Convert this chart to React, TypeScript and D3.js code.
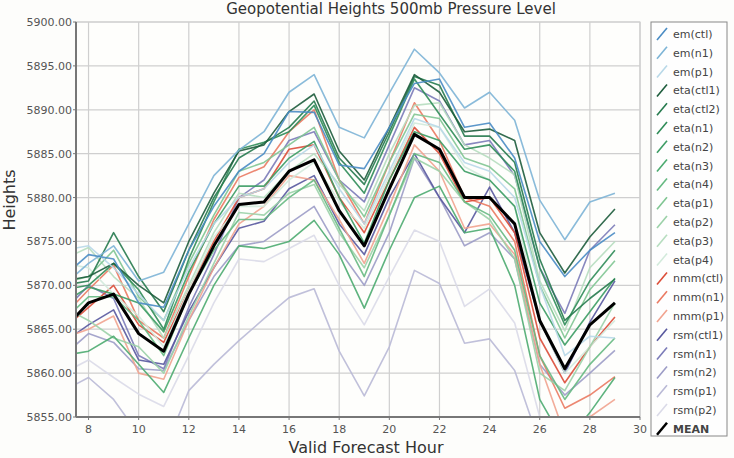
import React from 'react';
import * as d3 from 'd3';

const hours = [7, 8, 9, 10, 11, 12, 13, 14, 15, 16, 17, 18, 19, 20, 21, 22, 23, 24, 25, 26, 27, 28, 29];

const seriesNames = [
  'em(ctl)', 'em(n1)', 'em(p1)',
  'eta(ctl1)', 'eta(ctl2)', 'eta(n1)', 'eta(n2)', 'eta(n3)', 'eta(n4)', 'eta(p1)', 'eta(p2)', 'eta(p3)', 'eta(p4)',
  'nmm(ctl)', 'nmm(n1)', 'nmm(p1)',
  'rsm(ctl1)', 'rsm(n1)', 'rsm(n2)', 'rsm(p1)', 'rsm(p2)',
  'MEAN',
];

const seriesColors = [
  '#4a8cc4', '#7db4d6', '#b8d8e8',
  '#1d5c3c', '#267a4e', '#2f8c58', '#3c9c64', '#4cab70', '#66b982', '#7fc592', '#9bd1a8', '#b6ddbf', '#d2eadb',
  '#dc4d38', '#ea7a62', '#f1a38f',
  '#58589e', '#7b7bb8', '#9c9cc6', '#b9b9d6', '#dadae8',
  '#000000',
];

const emCtl = [5871, 5873.5, 5873, 5868, 5867.5, 5874, 5879, 5883, 5885, 5889.8, 5889.7, 5883.7, 5883.3, 5888, 5893, 5893.5, 5888, 5888.5, 5884.5, 5875, 5871, 5874, 5876];
const emN1 = [5870, 5872.5, 5874.5, 5870.5, 5871.5, 5877, 5882.5, 5885.4, 5887.5, 5892, 5894, 5888, 5886.8, 5891.9, 5896.9, 5894.2, 5890.2, 5892, 5888.8, 5879.7, 5875.2, 5879.5, 5880.5];
const emP1 = [5874, 5874.5, 5872, 5869, 5866, 5872, 5877, 5880, 5881, 5884, 5886, 5881, 5877, 5883, 5889, 5888, 5884, 5883, 5880, 5870, 5862, 5864.2, 5864];
const etaCtl1 = [5870.5, 5871, 5872.5, 5870, 5868, 5875, 5880.5, 5885.3, 5886, 5889.8, 5891.8, 5885.3, 5882, 5888, 5894, 5892, 5887.5, 5887.8, 5886.5, 5876, 5871.4, 5875.5, 5878.7];
const etaCtl2 = [5870, 5870.5, 5876, 5871, 5867, 5874, 5880, 5884.5, 5886.2, 5888, 5891, 5884.5, 5881.5, 5887.5, 5893.8, 5892.8, 5887, 5887, 5884, 5873, 5866, 5868.5, 5870.7];
const etaN1 = [5869.5, 5870, 5872.5, 5869.5, 5865, 5873, 5879.5, 5885.5, 5886.3, 5887.5, 5890.5, 5884, 5880.5, 5887, 5893.5, 5889.5, 5885.5, 5886, 5883, 5872, 5865.5, 5870.5, 5874];
const etaN2 = [5868, 5869.8, 5869, 5868, 5864.7, 5871.5, 5877, 5881.3, 5881.3, 5884.5, 5886.4, 5880, 5874.8, 5882, 5887.5, 5886.5, 5883, 5882, 5879, 5868, 5863.2, 5867, 5870.8];
const etaN3 = [5862, 5862.5, 5864.2, 5861, 5857.8, 5864, 5870, 5874.5, 5874.2, 5875, 5877.4, 5873.5, 5867.4, 5874, 5880, 5881.3, 5876, 5876.5, 5870, 5857, 5852, 5855.5, 5859.5];
const etaN4 = [5866, 5868.7, 5868.7, 5866, 5862, 5869, 5874, 5877.5, 5877.5, 5880, 5882, 5876.5, 5871, 5878, 5885, 5884, 5879.5, 5878, 5874, 5862, 5857, 5861, 5864];
const etaP1 = [5870.3, 5871, 5874, 5868.7, 5866, 5872.5, 5878, 5883, 5884, 5886, 5888, 5882, 5877.8, 5884, 5889.5, 5889, 5884.5, 5883.5, 5881, 5870, 5864, 5869.5, 5872.8];
const etaP2 = [5867.5, 5866, 5864, 5863, 5860, 5866.5, 5872.5, 5878.3, 5878, 5880.5, 5881.5, 5876, 5872, 5878, 5884.5, 5883, 5879.5, 5877.5, 5873, 5860, 5858, 5863, 5868];
const etaP3 = [5873, 5874.3, 5871, 5868.5, 5864, 5870, 5876, 5880.5, 5880, 5883, 5885, 5881.5, 5878.5, 5885, 5890.5, 5890.8, 5886, 5884.5, 5882.6, 5870.5, 5864.8, 5872, 5875];
const etaP4 = [5872.5, 5872, 5869, 5866.5, 5863, 5869.5, 5875.5, 5879, 5879, 5882, 5884, 5879.5, 5876.5, 5882.5, 5888.5, 5888, 5883.5, 5882, 5879, 5866, 5860, 5863, 5866];
const nmmCtl = [5865, 5867.5, 5870, 5865.5, 5863.5, 5869.5, 5875, 5880, 5881, 5885.5, 5886, 5880, 5876, 5882, 5888, 5885, 5879.5, 5880, 5876, 5864, 5858.9, 5863, 5866.4];
const nmmN1 = [5866.5, 5869.5, 5872.3, 5866, 5864, 5871, 5877.5, 5882.3, 5883.5, 5887.5, 5890, 5882, 5877, 5884, 5890.8, 5886.5, 5880, 5879, 5875, 5862, 5856, 5857.5, 5859.6];
const nmmP1 = [5864, 5865, 5866.5, 5860, 5859.3, 5866, 5872, 5877, 5879, 5882.5, 5882, 5877.5, 5872.5, 5879, 5886, 5883, 5876.5, 5877, 5873.5, 5861, 5853, 5855, 5857];
const rsmCtl1 = [5863.5, 5865.5, 5867.2, 5861.5, 5861, 5867, 5872, 5876.5, 5877.3, 5881, 5882.5, 5877, 5873.5, 5880, 5885, 5880, 5876, 5881.2, 5876, 5866, 5860, 5865.8, 5870.5];
const rsmN1 = [5867, 5870, 5868.5, 5862, 5860.5, 5867.5, 5873.5, 5880, 5882, 5886.5, 5887.5, 5882, 5879.5, 5886, 5892.5, 5891, 5886, 5886.5, 5882.5, 5872, 5866.8, 5874, 5876.9];
const rsmN2 = [5862, 5864.5, 5863.5, 5860.5, 5860.3, 5866, 5871, 5874.5, 5875, 5877, 5879, 5874, 5870, 5876, 5884.5, 5880, 5874.5, 5876, 5873, 5861, 5857.5, 5860, 5862.6];
const rsmP1 = [5858, 5859.5, 5857, 5853, 5851, 5858, 5861, 5863.7, 5866.2, 5868.6, 5869.6, 5862.5, 5857.4, 5863, 5871.7, 5870.2, 5863.4, 5863.9, 5860.3, 5852, 5845, 5848, 5850];
const rsmP2 = [5860, 5861.5, 5859.5, 5857.6, 5856.2, 5862, 5868, 5873, 5872.7, 5874.2, 5875.7, 5870, 5865.5, 5871, 5876.3, 5875, 5867.6, 5869.6, 5865.7, 5855, 5848, 5852, 5855];
const mean = [5865, 5868, 5869, 5864.5, 5862.5, 5869, 5874.5, 5879.2, 5879.5, 5883, 5884.3, 5878.5, 5874.5, 5881, 5887.2, 5885.5, 5880, 5880, 5877, 5866, 5860.5, 5865.5, 5868];

const seriesValues = [
  emCtl, emN1, emP1,
  etaCtl1, etaCtl2, etaN1, etaN2, etaN3, etaN4, etaP1, etaP2, etaP3, etaP4,
  nmmCtl, nmmN1, nmmP1,
  rsmCtl1, rsmN1, rsmN2, rsmP1, rsmP2,
  mean,
];

const xTicks = [8, 10, 12, 14, 16, 18, 20, 22, 24, 26, 28, 30];
const yTicks = [5855, 5860, 5865, 5870, 5875, 5880, 5885, 5890, 5895, 5900];

const W = 734;
const H = 458;
const plot = { left: 76, right: 640, top: 22, bottom: 417 };
const font = 'DejaVu Sans, Verdana, sans-serif';

export default function App() {
  const x = d3.scaleLinear().domain([7.5, 30]).range([plot.left, plot.right]);
  const y = d3.scaleLinear().domain([5855, 5900]).range([plot.bottom, plot.top]);

  const line = d3.line<number>()
    .x((_, i) => x(hours[i]))
    .y(d => y(d));

  // draw the lightest lines first, mean on top
  const order = seriesNames.map((_, i) => i).filter(i => seriesNames[i] !== 'MEAN').reverse();
  order.push(seriesNames.indexOf('MEAN'));

  const legendX = 651;
  const legendTop = 22;
  const legendStep = 18.8;

  return (
    <div style={{ position: 'absolute', left: 0, top: 0 }}>
      <svg width={W} height={H} style={{ display: 'block', background: '#fdfdfb' }}>
        <defs>
          <clipPath id="plotClip">
            <rect x={plot.left} y={plot.top} width={plot.right - plot.left} height={plot.bottom - plot.top} />
          </clipPath>
        </defs>

        <text x={391} y={14} textAnchor="middle" fontFamily={font} fontSize={15} fill="#333">
          Geopotential Heights 500mb Pressure Level
        </text>

        <rect x={plot.left} y={plot.top} width={plot.right - plot.left} height={plot.bottom - plot.top}
          fill="#fefefc" stroke="#c8c8c8" />

        {/* grid */}
        {xTicks.map(t => (
          <line key={'gx' + t} x1={x(t)} x2={x(t)} y1={plot.top} y2={plot.bottom} stroke="#cfcfcf" strokeWidth={1.2} />
        ))}
        {yTicks.map(t => (
          <line key={'gy' + t} x1={plot.left} x2={plot.right} y1={y(t)} y2={y(t)} stroke="#cfcfcf" strokeWidth={1.2} />
        ))}

        <g clipPath="url(#plotClip)">
          {order.map(i => (
            <path key={seriesNames[i]} d={line(seriesValues[i]) || ''} fill="none"
              stroke={seriesColors[i]}
              strokeWidth={seriesNames[i] === 'MEAN' ? 3 : 1.6}
              strokeOpacity={seriesNames[i] === 'MEAN' ? 1 : 0.9}
              strokeLinejoin="round" />
          ))}
        </g>

        {/* axes */}
        <line x1={plot.left} x2={plot.left} y1={plot.top} y2={plot.bottom} stroke="#777" strokeWidth={2} />
        <line x1={plot.left} x2={plot.right} y1={plot.bottom} y2={plot.bottom} stroke="#777" strokeWidth={2} />
        {yTicks.map(t => (
          <g key={'yt' + t}>
            <line x1={plot.left - 3} x2={plot.left} y1={y(t)} y2={y(t)} stroke="#777" />
            <text x={plot.left - 4} y={y(t) + 4} textAnchor="end" fontFamily={font} fontSize={11} fill="#555">
              {d3.format('.2f')(t)}
            </text>
          </g>
        ))}
        {xTicks.map(t => (
          <g key={'xt' + t}>
            <line x1={x(t)} x2={x(t)} y1={plot.bottom} y2={plot.bottom + 3} stroke="#777" />
            <text x={x(t)} y={plot.bottom + 16} textAnchor="middle" fontFamily={font} fontSize={11} fill="#555">
              {t}
            </text>
          </g>
        ))}

        <text x={366} y={453} textAnchor="middle" fontFamily={font} fontSize={16} fill="#333">
          Valid Forecast Hour
        </text>
        <text transform="translate(15,200) rotate(-90)" textAnchor="middle" fontFamily={font} fontSize={16} fill="#333">
          Heights
        </text>

        {/* legend */}
        <rect x={legendX} y={legendTop} width={76} height={414} fill="#fefefe" stroke="#888" />
        {seriesNames.map((name, i) => {
          const cy = legendTop + 12 + i * legendStep;
          const isMean = name === 'MEAN';
          return (
            <g key={'lg' + name}>
              <line x1={legendX + 6} y1={cy + 6} x2={legendX + 16} y2={cy - 6}
                stroke={seriesColors[i]} strokeWidth={isMean ? 2.5 : 1.6} />
              <text x={legendX + 22} y={cy + 4} fontFamily={font} fontSize={11}
                fontWeight={isMean ? 'bold' : 'normal'} fill="#444">
                {name}
              </text>
            </g>
          );
        })}
      </svg>
    </div>
  );
}
